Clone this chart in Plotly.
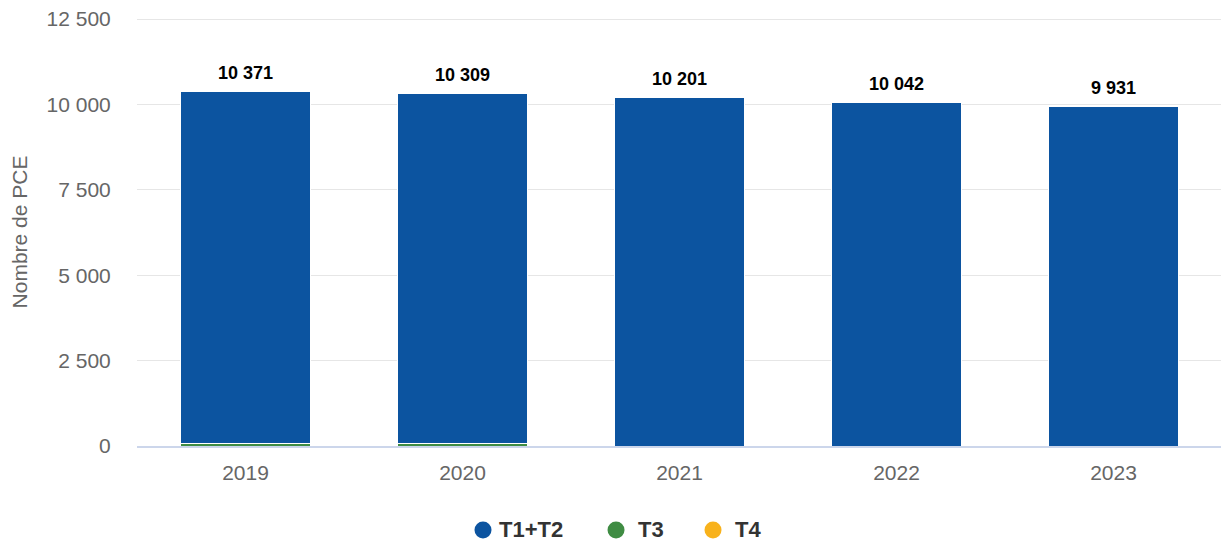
import plotly.graph_objects as go

years = ["2019", "2020", "2021", "2022", "2023"]
totals = [10371, 10309, 10201, 10042, 9931]
t3 = [70, 65, 0, 0, 0]
t4 = [0, 0, 0, 0, 0]
t12 = [tot - a - b for tot, a, b in zip(totals, t3, t4)]
total_labels = ["10 371", "10 309", "10 201", "10 042", "9 931"]
y_ticks = [0, 2500, 5000, 7500, 10000, 12500]

BLUE = "#0c54a0"
GREEN = "#3f8c43"
ORANGE = "#f8b21c"
FONT = "Liberation Sans, Arial"

series = [("T4", t4, ORANGE), ("T3", t3, GREEN), ("T1+T2", t12, BLUE)]

fig = go.Figure()

# stacked from bottom: T4, T3, T1+T2
for name, vals, col in series:
    fig.add_trace(go.Bar(x=years, y=vals, name=name, showlegend=False,
                         marker=dict(color=col, line=dict(color="white", width=1)),
                         hoverinfo="y+name"))

# total labels above bars
for i, (tot, lab) in enumerate(zip(totals, total_labels)):
    fig.add_annotation(x=i, y=tot, text=f"<b>{lab}</b>", showarrow=False,
                       yshift=19, font=dict(family=FONT, size=18, color="#000000"))

# hand-made legend with round markers (paper coordinates)
for (name, vals, col), (cx, tx) in zip(reversed(series),
                                       [(0.3189, 0.3318), (0.4415, 0.4599), (0.5309, 0.5493)]):
    fig.add_shape(type="circle", xref="paper", yref="paper",
                  xsizemode="pixel", ysizemode="pixel", xanchor=cx, yanchor=-0.196,
                  x0=-8.5, x1=8.5, y0=-8.5, y1=8.5,
                  fillcolor=col, line=dict(width=0))
    fig.add_annotation(xref="paper", yref="paper", x=tx, y=-0.196, xanchor="left", yanchor="middle",
                       text=f"<b>{name}</b>", showarrow=False,
                       font=dict(family=FONT, size=22, color="#333333"))

fig.update_layout(
    width=1221, height=537,
    barmode="stack", bargap=0.4,
    separators=", ",
    showlegend=False,
    plot_bgcolor="white", paper_bgcolor="white",
    font=dict(family=FONT, color="#666666"),
    margin=dict(l=129, r=7, t=10, b=99, autoexpand=False),
    xaxis=dict(type="category", tickfont=dict(size=21, color="#666666"), showline=True,
               linecolor="#ccd6eb", linewidth=2, showgrid=False, automargin=False,
               ticks="outside", ticklen=7, tickcolor="rgba(0,0,0,0)"),
    yaxis=dict(range=[0, 12530], tickvals=y_ticks, tickformat=",d", ticklabeloverflow="allow",
               automargin=False,
               tickfont=dict(size=21, color="#666666"), gridcolor="#e6e6e6",
               zeroline=False, ticks="outside", ticklen=21, tickcolor="rgba(0,0,0,0)",
               title=dict(text="Nombre de PCE", font=dict(size=21, color="#666666"), standoff=14)),
)

fig.write_html("out.html")
